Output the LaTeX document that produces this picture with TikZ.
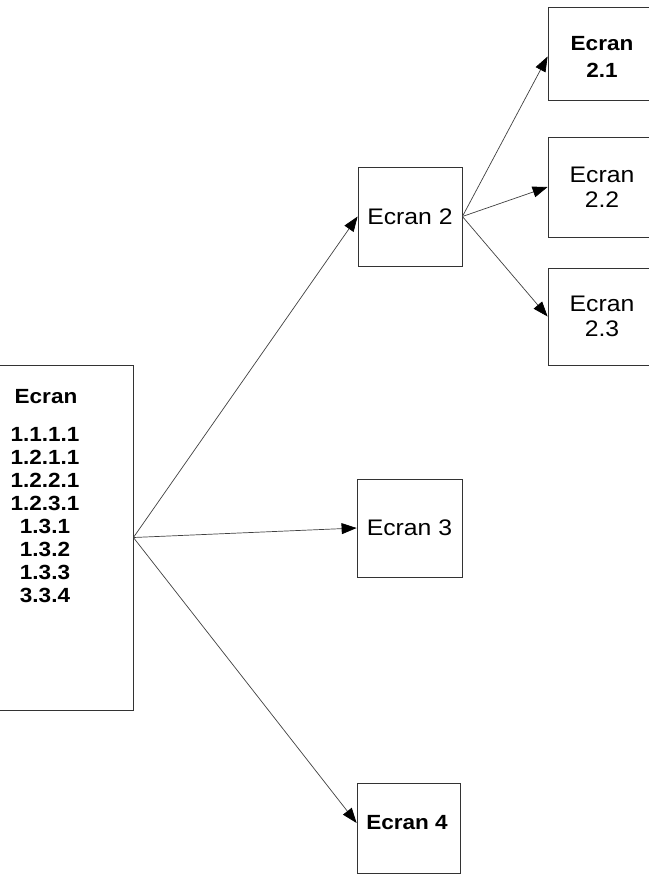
\documentclass[tikz,border=0pt]{standalone}
\usepackage{fontspec}
\newfontfamily\lbl[FakeStretch=1.1]{Liberation Sans}
\usetikzlibrary{arrows.meta,calc}
\begin{document}
\begin{tikzpicture}[x=1pt,y=-1pt,
  scrbox/.style={draw=black!80, line width=0.8pt, inner sep=0pt, rectangle},
  regtxt/.style={font=\lbl\fontsize{22.5}{25}\selectfont, align=center, inner sep=0pt},
  boldtxt/.style={font=\lbl\bfseries\fontsize{20.5}{23}\selectfont, align=center, inner sep=0pt},
  conn/.style={draw=black!75, line width=0.7pt, -{Triangle[length=15pt,width=11pt,black]}}]
\useasboundingbox (0,0) rectangle (648,875);
% left box
\node[scrbox, minimum width=135pt, minimum height=345pt] (ecr) at (65.5,537.5) {};
\node[boldtxt] (ecrt) at (46,397) {Ecran};
\node[boldtxt] (ecrl) at (45,515) {1.1.1.1\\1.2.1.1\\1.2.2.1\\1.2.3.1\\1.3.1\\1.3.2\\1.3.3\\3.3.4};
% Ecran 2
\node[scrbox, minimum width=104pt, minimum height=99pt, regtxt] (e2) at (410,216.5) {Ecran 2};
% Ecran 2.1
\node[scrbox, minimum width=108pt, minimum height=93pt] (e21) at (602,53.5) {};
\node[boldtxt, font=\lbl\bfseries\fontsize{20.5}{27}\selectfont] (e21t) at (602,56.5) {Ecran\\2.1};
% Ecran 2.2
\node[scrbox, minimum width=108pt, minimum height=100pt, regtxt] (e22) at (602,187) {Ecran\\2.2};
% Ecran 2.3
\node[scrbox, minimum width=108pt, minimum height=97pt, regtxt] (e23) at (602,316.5) {Ecran\\2.3};
% Ecran 3
\node[scrbox, minimum width=105pt, minimum height=98pt, regtxt] (e3) at (409.5,528) {Ecran 3};
% Ecran 4
\node[scrbox, minimum width=103pt, minimum height=90pt] (e4) at (408.5,828) {};
\node[boldtxt] (e4t) at (407,823) {Ecran 4};
% connectors
\draw[conn] (ecr.east) -- (e2.west);
\draw[conn] (ecr.east) -- (e3.west);
\draw[conn] (ecr.east) -- (e4.west |- e4t);
\draw[conn] (e2.east) -- (e21.west |- e21t);
\draw[conn] (e2.east) -- (e22.west);
\draw[conn] (e2.east) -- (e23.west);
\end{tikzpicture}
\end{document}
